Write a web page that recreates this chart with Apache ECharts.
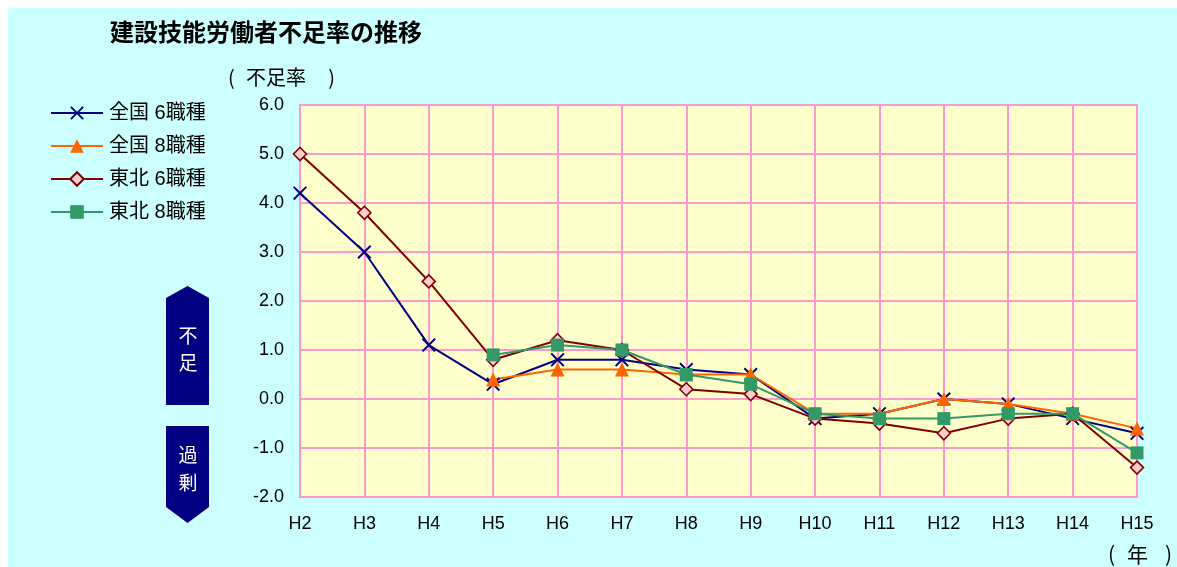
<!DOCTYPE html>
<html>
<head>
<meta charset="utf-8">
<script src="https://cdn.jsdelivr.net/npm/echarts@6/dist/echarts.min.js"></script>
<style>
  html, body { margin: 0; padding: 0; background: #ffffff; }
  #chart { position: absolute; left: 8px; top: 8px; width: 1169px; height: 559px; }
</style>
</head>
<body>
<div id="chart"></div>
<script>
// Years (Heisei) on the category axis
const years = ['H2','H3','H4','H5','H6','H7','H8','H9','H10','H11','H12','H13','H14','H15'];

// Shortage rate (%) per series; null where no survey figure exists
const zenkoku6 = [4.2, 3.0, 1.1, 0.3, 0.8, 0.8, 0.6, 0.5, -0.4, -0.3, 0.0, -0.1, -0.4, -0.7];
const zenkoku8 = [null, null, null, 0.4, 0.6, 0.6, 0.5, 0.5, -0.3, -0.3, 0.0, -0.1, -0.3, -0.6];
const tohoku6  = [5.0, 3.8, 2.4, 0.8, 1.2, 1.0, 0.2, 0.1, -0.4, -0.5, -0.7, -0.4, -0.3, -1.4];
const tohoku8  = [null, null, null, 0.9, 1.1, 1.0, 0.5, 0.3, -0.3, -0.4, -0.4, -0.3, -0.3, -1.1];

const seriesNames = ['全国 6職種', '全国 8職種', '東北 6職種', '東北 8職種'];

const FONT = '"Liberation Sans", "Noto Sans CJK JP", sans-serif';
const CJK = '"Noto Sans CJK JP", sans-serif';
const GRID_COLOR = '#FF99CC';

// filled "X" outline used as the marker of the nationwide 6-trade series
const crossPath = 'path://M0,1 L1,0 L5,4 L9,0 L10,1 L6,5 L10,9 L9,10 L5,6 L1,10 L0,9 L4,5 Z';

const chart = echarts.init(document.getElementById('chart'), null, { renderer: 'canvas' });

// chart offsets are relative to the container, which starts at (8, 8)
const O = 8;

function lineSeries(name, data, color, symbol, size, fill) {
  return {
    name: name,
    type: 'line',
    data: data,
    symbol: symbol,
    symbolSize: size,
    showAllSymbol: true,
    connectNulls: false,
    lineStyle: { color: color, width: 2 },
    itemStyle: { color: fill || color, borderColor: color, borderWidth: fill ? 1.6 : 0 },
    emphasis: { disabled: true },
    animation: false,
    z: 3
  };
}

function label(text, x, y, size, align) {
  return { type: 'text', x: x - O, y: y - O,
    style: { text: text, fontFamily: CJK, fontSize: size, fill: '#000000', align: align || 'left', verticalAlign: 'middle' } };
}

chart.setOption({
  backgroundColor: '#CCFFFF',
  animation: false,
  textStyle: { fontFamily: FONT },
  title: {
    text: '建設技能労働者不足率の推移',
    left: 110 - O,
    top: 20 - O,
    padding: 0,
    textStyle: { fontFamily: CJK, fontSize: 24, fontWeight: 'bold', color: '#000000' }
  },
  legend: {
    orient: 'vertical',
    left: 50 - O,
    top: 103 - O,
    padding: 0,
    itemWidth: 52,
    itemHeight: 17,
    itemGap: 13,
    data: seriesNames,
    textStyle: { fontFamily: FONT, fontSize: 20, lineHeight: 20, color: '#000000', padding: [0, 0, 0, 1] },
    selectedMode: false
  },
  grid: {
    left: 300 - O,
    top: 105 - O,
    right: 1177 - 1137,
    bottom: 567 - 497,
    show: true,
    backgroundColor: '#FFFFCC',
    borderColor: GRID_COLOR,
    borderWidth: 2
  },
  xAxis: {
    type: 'category',
    data: years,
    boundaryGap: false,
    axisLine: { lineStyle: { color: GRID_COLOR, width: 2 } },
    axisTick: { show: false },
    splitLine: { show: true, lineStyle: { color: GRID_COLOR, width: 2 } },
    axisLabel: { color: '#000000', fontSize: 18, margin: 18, fontFamily: FONT }
  },
  yAxis: {
    type: 'value',
    min: -2,
    max: 6,
    interval: 1,
    axisLine: { show: false },
    axisTick: { show: false },
    splitLine: { show: true, lineStyle: { color: GRID_COLOR, width: 2 } },
    axisLabel: {
      color: '#000000', fontSize: 18, margin: 16, fontFamily: FONT,
      formatter: v => v.toFixed(1)
    }
  },
  graphic: [
    // unit caption above the value axis
    label('(', 228, 77, 20),
    label('不足率', 246, 77, 20),
    label(')', 335, 77, 20, 'right'),
    // unit caption below the category axis
    label('(', 1108, 554, 21),
    label('年', 1127, 554, 21),
    label(')', 1172, 554, 21, 'right'),
    // "shortage" marker pointing up
    { type: 'polygon', shape: { points: [[166 - O, 298 - O], [187.5 - O, 286 - O], [209 - O, 298 - O], [209 - O, 405 - O], [166 - O, 405 - O]] },
      style: { fill: '#000080' } },
    { type: 'text', x: 188 - O, y: 349 - O,
      style: { text: '不\n足', fontFamily: CJK, fontSize: 19, lineHeight: 27, fill: '#ffffff', align: 'center', verticalAlign: 'middle' } },
    // "surplus" marker pointing down
    { type: 'polygon', shape: { points: [[166 - O, 426 - O], [209 - O, 426 - O], [209 - O, 507 - O], [187.5 - O, 523 - O], [166 - O, 507 - O]] },
      style: { fill: '#000080' } },
    { type: 'text', x: 188 - O, y: 469 - O,
      style: { text: '過\n剰', fontFamily: CJK, fontSize: 19, lineHeight: 28, fill: '#ffffff', align: 'center', verticalAlign: 'middle' } }
  ],
  series: [
    lineSeries(seriesNames[0], zenkoku6, '#000080', crossPath, 14),
    lineSeries(seriesNames[1], zenkoku8, '#FF6600', 'triangle', 14),
    lineSeries(seriesNames[2], tohoku6, '#800000', 'diamond', 13, '#FFCCCC'),
    lineSeries(seriesNames[3], tohoku8, '#339966', 'rect', 13)
  ]
});
</script>
</body>
</html>
